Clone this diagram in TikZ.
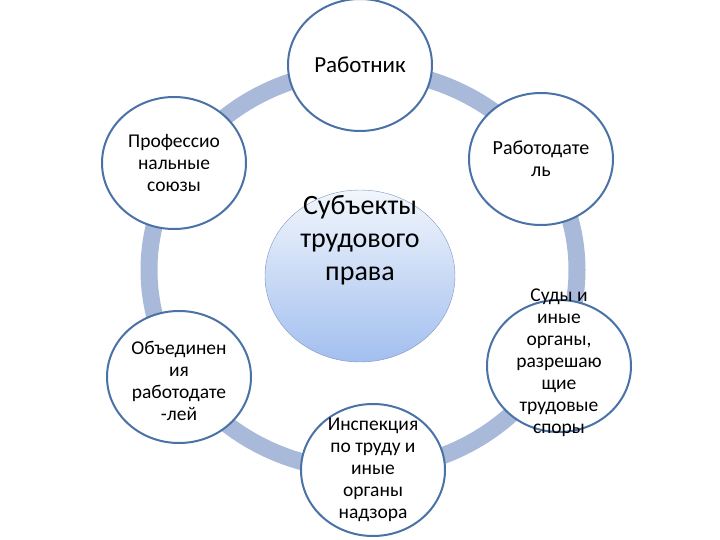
\documentclass[tikz,border=0pt]{standalone}
\usepackage{fontspec}
\setmainfont{Carlito}
\usetikzlibrary{shapes.geometric}

\definecolor{ringblue}{HTML}{A9B9D9}
\definecolor{rimblue}{HTML}{4A72A6}
\definecolor{hubrim}{HTML}{8096C0}
\definecolor{hubtop}{HTML}{F2F6FC}
\definecolor{hubbottom}{HTML}{A2BFEF}

\tikzset{
  member/.style={ellipse, draw=rimblue, line width=2pt, fill=white,
    minimum width=144pt, minimum height=132pt, inner sep=0pt},
  membertext/.style={align=center, font=\fontsize{19.5}{22}\selectfont},
}

\begin{document}
\begin{tikzpicture}[x=1pt,y=-1pt]
  \useasboundingbox (0,0) rectangle (720,540);

  % ring behind the members
  \coordinate (hub) at (363,270);
  \draw[ringblue, line width=17pt] (hub) ellipse [x radius=214pt, y radius=200pt];

  % centre
  \node[ellipse, draw=hubrim, thin, top color=hubtop, bottom color=hubbottom,
    minimum width=190pt, minimum height=172pt, inner sep=0pt] (subj) at (360,276) {};
  \node[align=center, font=\fontsize{28}{33}\selectfont] (subj-t) at (360,240)
    {Субъекты\\трудового\\права};

  % members of the ring
  \node[member] (worker) at (360,65) {};
  \node[membertext, font=\fontsize{23}{26}\selectfont] (worker-t) at (worker) {Работник};

  \node[member] (employer) at (541,159) {};
  \node[membertext, font=\fontsize{20}{22}\selectfont] (employer-t) at (employer)
    {Работодате\\ль};

  \node[member] (courts) at (559,366) {};
  \node[membertext] (courts-t) at ([yshift=3]courts.center)
    {Суды и\\иные\\органы,\\разрешаю\\щие\\трудовые\\споры};

  \node[member] (inspect) at (373,470) {};
  \node[membertext] (inspect-t) at (inspect)
    {Инспекция\\по труду и\\иные\\органы\\надзора};

  \node[member] (assoc) at (179,377) {};
  \node[membertext] (assoc-t) at ([yshift=-4]assoc.center)
    {Объединен\\ия\\работодате\\-лей};

  \node[member] (unions) at (174,163) {};
  \node[membertext] (unions-t) at (unions) {Профессио\\нальные\\союзы};

\end{tikzpicture}
\end{document}
